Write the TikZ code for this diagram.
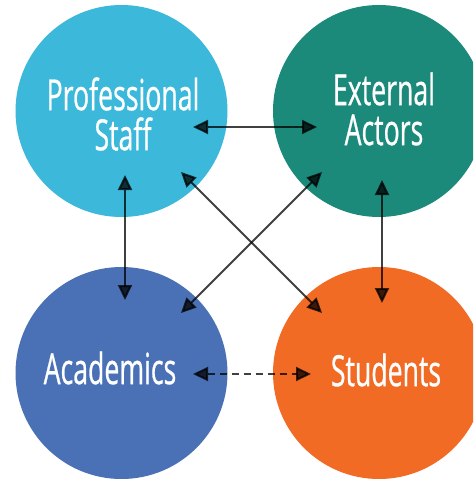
\documentclass[tikz,border=0pt]{standalone}
\usepackage{fontspec}
\setmainfont{Open Sans}[FakeStretch=0.62,FakeBold=0.6]
\usetikzlibrary{arrows.meta}
\definecolor{psblue}{HTML}{3BB8DA}
\definecolor{eateal}{HTML}{1B8A7A}
\definecolor{acblue}{HTML}{4A71B5}
\definecolor{storange}{HTML}{F26B24}
\tikzset{
  bubble/.style={circle, minimum size=212pt, inner sep=0pt, draw=none},
  lbl/.style={text=white, font=\fontsize{43}{40}\selectfont, align=center, inner sep=0pt},
  link/.style={draw=black, line width=2pt, opacity=0.75,
    {Triangle[length=15pt,width=14pt]}-{Triangle[length=15pt,width=14pt]}},
}
\begin{document}
\begin{tikzpicture}[x=1pt,y=-1pt]
\useasboundingbox (0,0) rectangle (473,481);
\clip (0,0) rectangle (473,481);
\fill[white] (0,0) rectangle (473,481);
\node[bubble, fill=psblue] (ps) at (121.5,111) {};
\node[bubble, fill=eateal] (ea) at (379,111) {};
\node[bubble, fill=acblue] (ac) at (121.5,373) {};
\node[bubble, fill=storange] (st) at (379,373) {};
\node[lbl] (pst) at (123,114) {Professional\\Staff};
\node[lbl] (eat) at (384,109) {External\\Actors};
\node[lbl] (act) at (110,368) {Academics};
\node[lbl] (stt) at (386,370) {Students};
\coordinate (p1) at (193,127); \coordinate (e1) at (317,127);
\coordinate (p2) at (125,175); \coordinate (a2) at (125,300);
\coordinate (e3) at (382,180); \coordinate (s3) at (382,303);
\coordinate (p4) at (181,172); \coordinate (s4) at (322,313);
\coordinate (e5) at (322,172); \coordinate (a5) at (181,313);
\coordinate (a6) at (193,374); \coordinate (s6) at (311,374);
\draw[link] (p1) -- (e1);
\draw[link] (p2) -- (a2);
\draw[link] (e3) -- (s3);
\draw[link] (p4) -- (s4);
\draw[link] (e5) -- (a5);
\draw[link, dash pattern=on 7pt off 5pt] (a6) -- (s6);
\end{tikzpicture}
\end{document}
